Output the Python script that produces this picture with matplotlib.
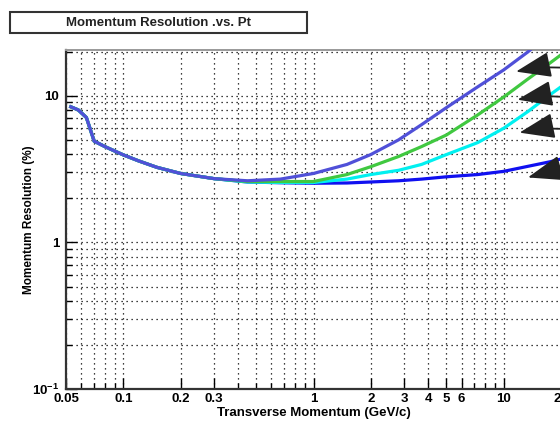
import numpy as np
import matplotlib
matplotlib.use("Agg")
import matplotlib.pyplot as plt
from matplotlib.ticker import FixedLocator, NullFormatter, FixedFormatter
from matplotlib.patches import Rectangle

plt.rcParams['font.family'] = ['Liberation Sans', 'DejaVu Sans']
plt.rcParams['font.weight'] = 'bold'
plt.rcParams['mathtext.fontset'] = 'custom'
plt.rcParams['mathtext.rm'] = 'Liberation Sans:bold'
plt.rcParams['mathtext.bf'] = 'Liberation Sans:bold'

# transverse momentum grid (GeV/c)
pt = [0.053, 0.058, 0.064, 0.0703, 0.08, 0.09, 0.1, 0.12, 0.15, 0.2, 0.3, 0.45,
      0.67, 1.0, 1.5, 2.0, 2.8, 3.7, 5.0, 7.3, 10.0, 13.4, 17.6, 20.0]

# resolution (%) for the four curves
res_purple = [8.4, 8.0, 7.1, 4.9, 4.5, 4.2, 3.95, 3.6, 3.25, 2.95, 2.72, 2.63,
              2.7, 2.95, 3.4, 3.97, 5.0, 6.35, 8.3, 11.5, 15.0, 19.9, 27.0, 30.0]
res_green = [8.4, 8.0, 7.1, 4.9, 4.5, 4.2, 3.95, 3.6, 3.25, 2.95, 2.72, 2.6,
             2.6, 2.6, 2.9, 3.28, 3.85, 4.5, 5.4, 7.4, 9.8, 13.0, 16.8, 19.0]
res_cyan = [8.4, 8.0, 7.1, 4.9, 4.5, 4.2, 3.95, 3.6, 3.25, 2.95, 2.72, 2.58,
            2.56, 2.56, 2.7, 2.9, 3.1, 3.4, 3.97, 4.79, 6.0, 7.8, 10.2, 11.5]
res_blue = [8.4, 8.0, 7.1, 4.9, 4.5, 4.2, 3.95, 3.6, 3.25, 2.95, 2.72, 2.58,
            2.55, 2.53, 2.54, 2.58, 2.63, 2.7, 2.8, 2.9, 3.05, 3.3, 3.55, 3.7]

# arrow tips (pt, %) pointing at the curves
arrow_x = [11.6, 11.8, 12.1, 13.4]
arrow_y = [14.6, 9.4, 5.6, 2.77]
arrow_tail_y = [0.91, 0.82, 0.73, 0.62]

xticks = [0.05, 0.1, 0.2, 0.3, 1, 2, 3, 4, 5, 6, 10, 20]
xticklabels = ['0.05', '0.1', '0.2', '0.3', '1', '2', '3', '4', '5', '6', '10', '20']
xminor = [0.06, 0.07, 0.08, 0.09, 0.4, 0.5, 0.6, 0.7, 0.8, 0.9, 7, 8, 9]
yticks = [0.1, 1, 10]
yticklabels = ['10$^{-1}$', '1', '10']
yminor = [m * d for d in [0.1, 1, 10] for m in range(2, 10)]

fig = plt.figure(figsize=(5.6, 4.22), dpi=100)
ax = fig.add_axes([66 / 560, 33 / 422, 495 / 560, 339 / 422])

ax.plot(pt, res_blue, color='#1010f0', lw=2.3, zorder=3)
ax.plot(pt, res_cyan, color='#00f0f0', lw=2.3, zorder=3)
ax.plot(pt, res_green, color='#40c840', lw=2.3, zorder=3)
ax.plot(pt, res_purple, color='#5050d8', lw=2.3, zorder=4)

ax.set_xscale('log')
ax.set_yscale('log')
ax.set_xlim(0.05, 20)
ax.set_ylim(0.1, 20.5)

ax.xaxis.set_major_locator(FixedLocator(xticks))
ax.xaxis.set_major_formatter(FixedFormatter(xticklabels))
ax.xaxis.set_minor_locator(FixedLocator(xminor))
ax.xaxis.set_minor_formatter(NullFormatter())
ax.yaxis.set_major_locator(FixedLocator(yticks))
ax.yaxis.set_major_formatter(FixedFormatter(yticklabels))
ax.yaxis.set_minor_locator(FixedLocator(yminor))
ax.yaxis.set_minor_formatter(NullFormatter())

ax.tick_params(which='both', direction='in', labelsize=9.5, width=1.0)
ax.tick_params(which='major', length=8)
ax.tick_params(which='minor', length=4)
ax.tick_params(axis='x', pad=3)
ax.tick_params(axis='y', pad=5)

ax.grid(True, which='both', color='black', linestyle=(0, (1, 3)), linewidth=0.9)

for s in ['left', 'bottom']:
    ax.spines[s].set_linewidth(1.6)
    ax.spines[s].set_color('#333333')
ax.spines['top'].set_color('#999999')
ax.spines['top'].set_linewidth(1.4)

ax.set_xlabel('Transverse Momentum (GeV/c)', fontsize=9.5, fontweight='bold', labelpad=1)
ax.set_ylabel('Momentum Resolution (%)', fontsize=8.5, fontweight='bold', labelpad=-2)

for i in range(len(arrow_x)):
    ax.annotate('', xy=(arrow_x[i], arrow_y[i]), xycoords='data',
                xytext=(1.12, arrow_tail_y[i]), textcoords='axes fraction',
                annotation_clip=False,
                arrowprops=dict(arrowstyle='-|>,head_length=1.1,head_width=0.4',
                                mutation_scale=20, color='#222222', lw=1.3,
                                shrinkA=0, shrinkB=0,
                                connectionstyle='arc3,rad=0.15'))

# title box
fig.patches.append(Rectangle((10 / 560, 389 / 422), 297 / 560, 21 / 422,
                             transform=fig.transFigure, facecolor='white',
                             edgecolor='#333333', linewidth=1.5))
fig.text(158 / 560, 399.5 / 422, 'Momentum Resolution .vs. Pt', ha='center', va='center',
         fontsize=9.5, fontweight='bold', color='#222222')

fig.savefig('out.png', dpi=100)
